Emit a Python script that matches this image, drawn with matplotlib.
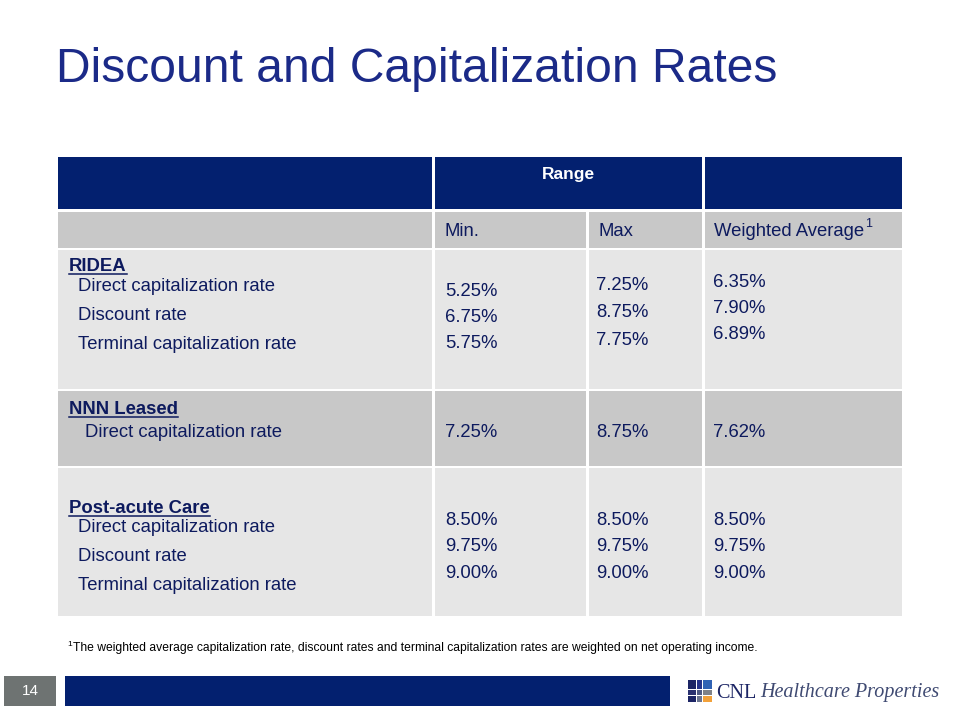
import matplotlib
matplotlib.use("Agg")
from matplotlib import pyplot as plt
from matplotlib.patches import Rectangle

plt.rcParams['font.family'] = ['Liberation Sans', 'DejaVu Sans']

# table data
title = 'Discount and Capitalization Rates'
col_heads = ['Min.', 'Max', 'Weighted Average']
sections = ['RIDEA', 'NNN Leased', 'Post-acute Care']
row_labels = [
    ['Direct capitalization rate', 'Discount rate', 'Terminal capitalization rate'],
    ['Direct capitalization rate'],
    ['Direct capitalization rate', 'Discount rate', 'Terminal capitalization rate'],
]
min_vals = [['5.25%', '6.75%', '5.75%'], ['7.25%'], ['8.50%', '9.75%', '9.00%']]
max_vals = [['7.25%', '8.75%', '7.75%'], ['8.75%'], ['8.50%', '9.75%', '9.00%']]
wa_vals = [['6.35%', '7.90%', '6.89%'], ['7.62%'], ['8.50%', '9.75%', '9.00%']]
footnote = 'The weighted average capitalization rate, discount rates and terminal capitalization rates are weighted on net operating income.'
page_no = '14'

NAVY = '#03206f'
TXT = '#0d1a5e'
LIGHT = '#e6e6e6'
MID = '#c8c8c8'

fig = plt.figure(figsize=(9.6, 7.2), dpi=100)
ax = fig.add_axes([0, 0, 1, 1])
ax.set_xlim(0, 960)
ax.set_ylim(720, 0)
ax.axis('off')


def box(x0, y0, x1, y1, color):
    ax.add_patch(Rectangle((x0, y0), x1 - x0, y1 - y0, facecolor=color, edgecolor='none'))


ax.text(56, 70, title, fontsize=34.6, color='#1b2a88', va='center', ha='left')

# table grid
cols = [58, 433, 587, 703, 902]
g = 1.5
# header row
box(cols[0], 157, cols[1] - g, 209, NAVY)
box(cols[1] + g, 157, cols[3] - g, 209, NAVY)
box(cols[3] + g, 157, cols[4], 209, NAVY)
ax.text((cols[1] + cols[3]) / 2, 175, 'Range', fontsize=12.5, fontweight='bold',
        color='white', ha='center', va='center')

# body rows (top, bottom, color)
rows = [(212, 248, MID), (250, 389, LIGHT), (391, 466, MID), (468, 616, LIGHT)]
for top, bot, c in rows:
    for i in range(4):
        x0 = cols[i] + (g if i > 0 else 0)
        x1 = cols[i + 1] - (g if i < 3 else 0)
        box(x0, top, x1, bot, c)

fs = 13.3
dy = 1.5  # va='center' sits a little high for these fonts
for i, h in enumerate(col_heads):
    ax.text(cols[i + 1] + 11, 230 + dy, h, fontsize=fs, color=TXT, va='center')

fig.canvas.draw()
rend = fig.canvas.get_renderer()
inv = ax.transData.inverted()


def right_edge(t):
    bb = t.get_window_extent(renderer=rend)
    return inv.transform((bb.x1, bb.y0))[0]


wa_head = ax.texts[-1]
ax.text(right_edge(wa_head) + 0.5, 224, '1', fontsize=9, color=TXT, va='center')

# section layout (y of heading, y of label rows, y of value rows per column)
sec_y = [265, 408, 507]
label_y = [[285, 314, 343], [431], [526, 555, 584]]
label_x = [78, 85, 78]
min_y = [[290, 316, 342], [431], [519, 545, 572]]
max_y = [[284, 311, 339], [431], [519, 545, 572]]
wa_y = [[281, 307, 333], [431], [519, 545, 572]]

for s, name in enumerate(sections):
    t = ax.text(69, sec_y[s] + dy, name, fontsize=fs, fontweight='bold', color=TXT, va='center')
    x_end = right_edge(t)
    ax.plot([69, x_end], [sec_y[s] + 8.5, sec_y[s] + 8.5], color=TXT, lw=1.1)
    for k, lab in enumerate(row_labels[s]):
        ax.text(label_x[s], label_y[s][k] + dy, lab, fontsize=fs, color=TXT, va='center')
        ax.text(cols[1] + 12, min_y[s][k] + dy, min_vals[s][k], fontsize=fs, color=TXT, va='center')
        ax.text(cols[2] + 9, max_y[s][k] + dy, max_vals[s][k], fontsize=fs, color=TXT, va='center')
        ax.text(cols[3] + 10, wa_y[s][k] + dy, wa_vals[s][k], fontsize=fs, color=TXT, va='center')

# footnote
ax.text(67, 645, '1', fontsize=6, color='black', va='center')
ax.text(73, 648, footnote, fontsize=8.7, color='black', va='center')

# bottom band
box(4, 676, 56, 706, '#6e7372')
ax.text(30, 691, page_no, fontsize=11, color='white', ha='center', va='center')
box(65, 676, 670, 706, NAVY)

# logo squares
lx = [688, 697, 703, 713]
ly = [680, 690, 696, 703]
logo_cols = [['#1c2565', '#25338a', '#2f62b4'],
             ['#2a3170', '#4f5a84', '#7f8288'],
             ['#1c2565', '#6b7590', '#f2a13a']]
for r in range(3):
    for c in range(3):
        ax.add_patch(Rectangle((lx[c], ly[r]), lx[c + 1] - lx[c] - 0.6, ly[r + 1] - ly[r] - 0.6,
                               facecolor=logo_cols[r][c], edgecolor='none'))
t = ax.text(716, 693, 'CNL', fontsize=14.5, family='Liberation Serif', color='#1c2565', va='center')
ax.text(right_edge(t) + 4, 693, 'Healthcare Properties', fontsize=14.5, family='Liberation Serif',
        style='italic', color='#3f4a72', va='center')

fig.savefig('out.png', dpi=100)
